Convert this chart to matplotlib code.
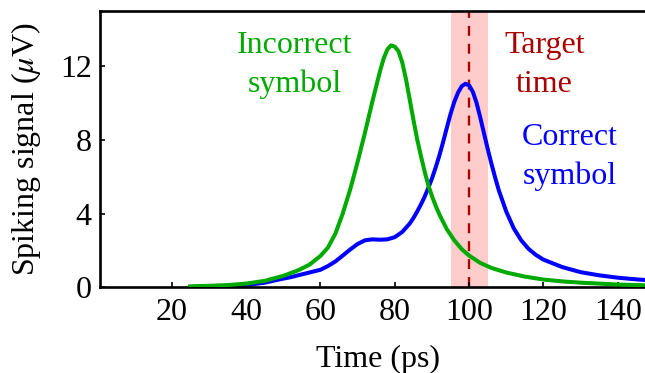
import numpy as np
import matplotlib
matplotlib.use('Agg')
import matplotlib.pyplot as plt

# signal traces (time in ps, signal in uV)
t_incorrect = [25, 30, 35, 40, 45, 50, 54, 57, 60, 62, 64, 66, 68, 70, 72, 74, 76, 77,
               78, 79, 80, 81, 82, 83, 84, 85, 86, 87, 88, 89, 90, 91, 92, 94, 96, 98,
               100, 103, 106, 110, 115, 120, 125, 130, 135, 140, 145, 150]
s_incorrect = [0.05, 0.08, 0.12, 0.2, 0.35, 0.62, 0.92, 1.22, 1.7, 2.15, 2.9, 4.0, 5.3,
               6.8, 8.4, 10.1, 11.7, 12.4, 12.9, 13.12, 13.05, 12.8, 12.2, 11.3, 10.2,
               9.1, 8.05, 7.15, 6.3, 5.55, 4.95, 4.42, 3.95, 3.15, 2.55, 2.07, 1.72, 1.32,
               1.05, 0.8, 0.58, 0.42, 0.32, 0.25, 0.2, 0.15, 0.12, 0.1]

t_correct = [25, 30, 35, 40, 45, 49, 52, 55, 58, 60, 62, 64, 66, 68, 70, 72, 74, 76, 78,
             80, 82, 84, 85, 86, 87, 88, 89, 90, 91, 92, 93, 94, 95, 96, 97, 98, 99, 100,
             101, 102, 103, 104, 105, 106, 107, 108, 110, 112, 114, 116, 118, 120, 125,
             130, 135, 140, 145, 150]
s_correct = [0.02, 0.04, 0.07, 0.12, 0.25, 0.43, 0.55, 0.7, 0.85, 0.95, 1.15, 1.4, 1.72,
             2.05, 2.35, 2.55, 2.6, 2.58, 2.6, 2.72, 3.0, 3.45, 3.75, 4.1, 4.48, 4.9, 5.38,
             5.9, 6.5, 7.15, 7.88, 8.65, 9.4, 10.05, 10.55, 10.9, 11.04, 10.95, 10.6,
             10.0, 9.2, 8.35, 7.5, 6.7, 5.95, 5.25, 4.1, 3.2, 2.55, 2.08, 1.75, 1.5, 1.1,
             0.82, 0.65, 0.52, 0.43, 0.36]

target = 100
window = (95, 105)

xticks = [20, 40, 60, 80, 100, 120, 140]
yticks = [0, 4, 8, 12]

green = '#00aa00'
blue = '#0000ff'
darkred = '#aa0000'

plt.rcParams['font.family'] = ['Liberation Serif', 'DejaVu Serif']
plt.rcParams['mathtext.fontset'] = 'stix'
fs = 23

fig = plt.figure(figsize=(6.45, 3.73), dpi=100)
ax = fig.add_axes([100/645, 85.7/373, 555/645, 276.6/373])

ax.axvspan(window[0], window[1], color='#ffcccc', lw=0, zorder=0)
ax.axvline(target, color=darkred, lw=1.7, dashes=(4.2, 3.4), zorder=1)
ax.plot(t_correct, s_correct, color=blue, lw=2.9, zorder=2)
ax.plot(t_incorrect, s_incorrect, color=green, lw=2.9, zorder=3)

ax.text(53.1, 12.69, 'Incorrect', color=green, fontsize=fs, ha='center', va='baseline')
ax.text(53.1, 10.57, 'symbol', color=green, fontsize=fs, ha='center', va='baseline')
ax.text(120.3, 12.69, 'Target', color=darkred, fontsize=fs, ha='center', va='baseline')
ax.text(120.3, 10.57, 'time', color=darkred, fontsize=fs, ha='center', va='baseline')
ax.text(127.0, 7.7, 'Correct', color=blue, fontsize=fs, ha='center', va='baseline')
ax.text(127.0, 5.58, 'symbol', color=blue, fontsize=fs, ha='center', va='baseline')

ax.set_xlim(0.7, 150)
ax.set_ylim(0, 15)
ax.set_xticks(xticks)
ax.set_yticks(yticks)
ax.tick_params(direction='in', length=3.3, width=1.2, labelsize=fs, top=False, right=False)
ax.tick_params(axis='x', pad=7.5)
ax.tick_params(axis='y', pad=6)

for side in ['left', 'bottom', 'top']:
    ax.spines[side].set_linewidth(1.9)
ax.spines['right'].set_visible(False)

ax.set_xlabel('Time (ps)', fontsize=fs)
ax.set_ylabel(r'Spiking signal ($\mu$V)', fontsize=fs)
ax.xaxis.set_label_coords(0.5, -0.209)
ax.yaxis.set_label_coords(-0.103, 0.5)

fig.savefig('out.png', dpi=100)
